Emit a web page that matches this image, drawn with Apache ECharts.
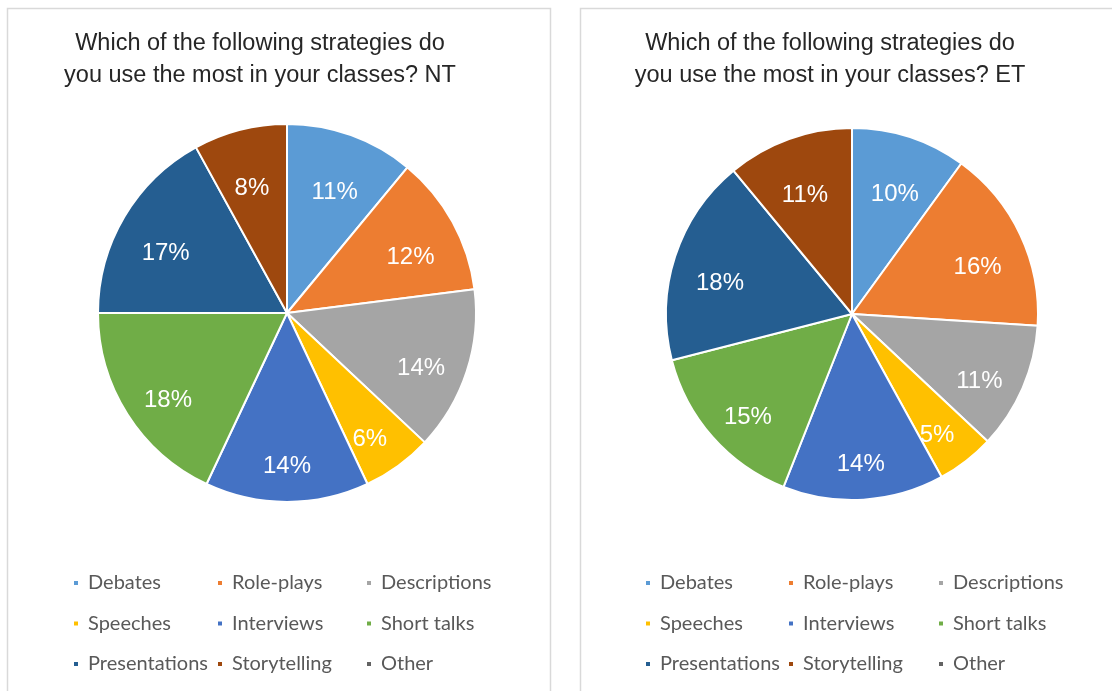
<!DOCTYPE html>
<html>
<head>
<meta charset="utf-8">
<script src="https://cdn.jsdelivr.net/npm/echarts@6/dist/echarts.min.js"></script>
<style>
html,body{margin:0;padding:0;background:#fff;}
#chart{width:1112px;height:691px;}
</style>
</head>
<body>
<div id="chart"></div>
<script>
// ---- data ----
const categories = ['Debates','Role-plays','Descriptions','Speeches','Interviews','Short talks','Presentations','Storytelling','Other'];
const valuesNT = [11, 12, 14, 6, 14, 18, 17, 8, 0];
const valuesET = [10, 16, 11, 5, 14, 15, 18, 11, 0];
const titleNT = 'Which of the following strategies do\nyou use the most in your classes? NT';
const titleET = 'Which of the following strategies do\nyou use the most in your classes? ET';
const colors = ['#5B9BD5','#ED7D31','#A5A5A5','#FFC000','#4472C4','#70AD47','#255E91','#9E480E','#636363'];

// legend columns (row-major legend order split into three columns)
const legendCols = [
  [categories[0], categories[3], categories[6]],
  [categories[1], categories[4], categories[7]],
  [categories[2], categories[5], categories[8]]
];

const chart = echarts.init(document.getElementById('chart'));

function pieData(vals) {
  return categories.map((c, i) => ({ name: c, value: vals[i], itemStyle: { color: colors[i] } }));
}

function mainPie(vals, center, r) {
  return {
    type: 'pie', center: center, radius: [0, r], startAngle: 90, clockwise: true,
    data: pieData(vals),
    label: { show: false }, labelLine: { show: false },
    itemStyle: { borderColor: '#fff', borderWidth: 2 },
    emphasis: { disabled: true }, silent: true
  };
}
function labelPie(vals, center, r) {
  return {
    type: 'pie', center: center, radius: [r * 0.46, r], startAngle: 90, clockwise: true,
    data: categories.map((c, i) => ({ name: c, value: vals[i] })),
    itemStyle: { color: 'rgba(0,0,0,0)', borderWidth: 0 },
    label: {
      show: true, position: 'inside', color: '#fff', offset: [0, 12],
      fontFamily: 'Liberation Sans, Arial, sans-serif', fontSize: 24,
      formatter: p => p.value > 0 ? p.value + '%' : ''
    },
    labelLine: { show: false },
    emphasis: { disabled: true }, silent: true
  };
}

function legends(xs) {
  return legendCols.map((names, k) => ({
    orient: 'vertical', left: xs[k], top: 573, padding: 0,
    itemWidth: 6, itemHeight: 6, itemGap: 20.5, icon: 'rect',
    selectedMode: false,
    textStyle: { fontFamily: 'Lato, sans-serif', fontSize: 20, color: '#595959', lineHeight: 20, padding: [0, 0, 0, 4] },
    data: names.map(n => ({ name: n, itemStyle: { color: colors[categories.indexOf(n)] } }))
  }));
}

const titleStyle = { textAlign: 'center', textVerticalAlign: 'middle', verticalAlign: 'middle', align: 'center', fontFamily: 'Liberation Sans, Arial, sans-serif', fontSize: 23.5, lineHeight: 32, fill: '#262626' };

chart.setOption({
  animation: false,
  graphic: [
    { type: 'rect', shape: { x: 7.5, y: 8.5, width: 543, height: 700 }, style: { fill: 'none', stroke: '#d9d9d9', lineWidth: 1.5 }, z: -10 },
    { type: 'rect', shape: { x: 580.5, y: 8.5, width: 600, height: 700 }, style: { fill: 'none', stroke: '#d9d9d9', lineWidth: 1.5 }, z: -10 },
    { type: 'text', x: 260, y: 60, style: Object.assign({ text: titleNT }, titleStyle) },
    { type: 'text', x: 830, y: 60, style: Object.assign({ text: titleET }, titleStyle) }
  ],
  legend: legends([72, 216, 365]).concat(legends([644, 787, 937])),
  series: [
    mainPie(valuesNT, [287, 313], 189),
    mainPie(valuesET, [852, 314], 186),
    labelPie(valuesNT, [287, 313], 189),
    labelPie(valuesET, [852, 314], 186)
  ]
});
</script>
</body>
</html>
